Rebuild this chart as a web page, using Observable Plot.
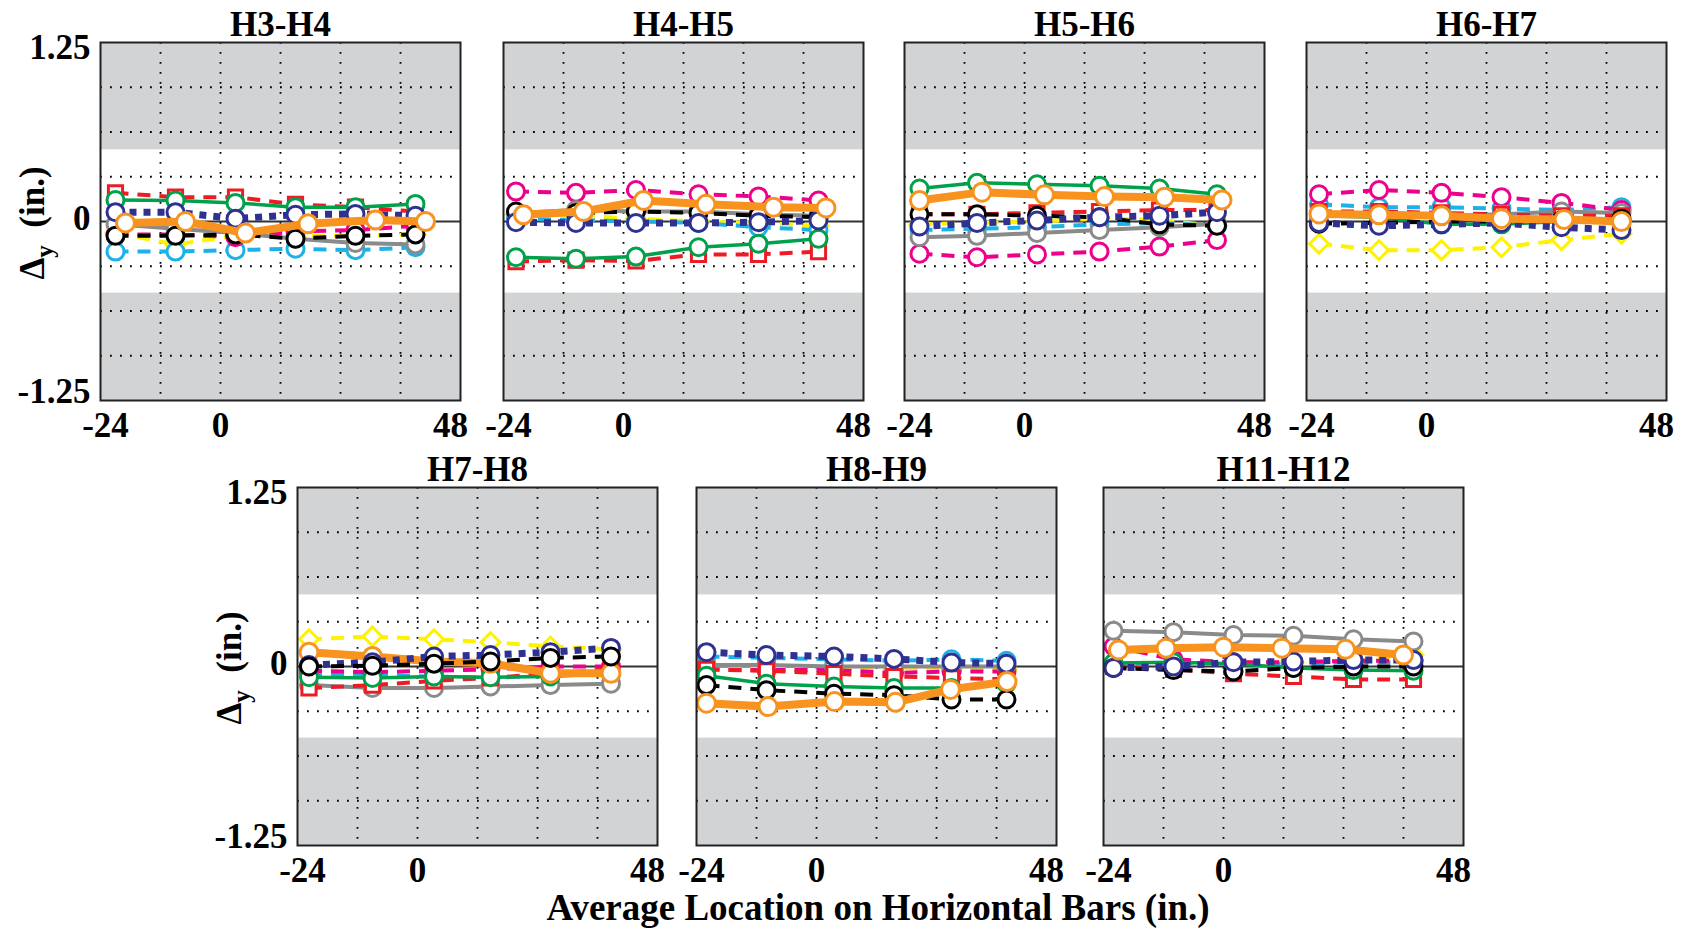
<!DOCTYPE html>
<html>
<head>
<meta charset="utf-8">
<script src="https://cdn.jsdelivr.net/npm/d3@7"></script>
<script src="https://cdn.jsdelivr.net/npm/@observablehq/plot@0.6"></script>
<style>
  html, body { margin: 0; padding: 0; background: #fff; }
  #chart { position: relative; width: 1689px; height: 928px; overflow: hidden;
           font-family: "Liberation Serif", "Times New Roman", serif; }
  .panel { position: absolute; }
  .panel svg { overflow: visible; max-width: none; }
  .ylab { position: absolute; font-weight: bold; font-size: 35px; white-space: nowrap;
          transform: translate(-50%, -50%) rotate(-90deg); line-height: 1; }
  .ylab sub { font-size: 25px; vertical-align: -9px; }
  .xlab { position: absolute; font-weight: bold; font-size: 37px; white-space: nowrap;
          transform: translateX(-50%); line-height: 1; }
</style>
</head>
<body>
<div id="chart"></div>
<script>
// ---------- data ----------
const panelTitles = ["H3-H4", "H4-H5", "H5-H6", "H6-H7", "H7-H8", "H8-H9", "H11-H12"];
const xDomain = [-24, 48];
const yDomain = [-1.25, 1.25];
const xTicks = [-24, 0, 48];
const yTicks = [-1.25, 0, 1.25];
const xGrid = [-12, 0, 12, 24, 36];
const yGrid = [-0.9375, -0.625, -0.3125, 0.3125, 0.625, 0.9375];
const limitBands = [[0.5, 1.25], [-1.25, -0.5]];

// average gauge locations (in.) per panel
const locations = [
  [-21, -9, 3, 15, 27, 39],
  [-21.5, -9.5, 2.5, 15, 27, 39],
  [-21, -9.5, 2.5, 15, 27, 38.5],
  [-21.5, -9.5, 3, 15, 27, 39],
  [-21.7, -9, 3.3, 14.6, 26.6, 38.7],
  [-22, -10, 3.5, 15.5, 27, 38],
  [-22, -10, 2, 14, 26, 38]
];
const orangeLocations = [
  [-19, -7, 5, 17.5, 31, 41],
  [-20, -8, 4, 16.5, 30, 40.5],
  [-21, -8.5, 4, 16, 28, 39.5],
  [-21.5, -9.5, 3, 15, 27.5, 39],
  [-21.7, -9, 3.3, 14.6, 26.6, 38.7],
  [-22, -9.7, 3.6, 15.8, 26.8, 38.1],
  [-21, -11.5, 0, 11.7, 24.4, 36]
];

// Δy (in.) for each series, one row per panel
const yellow = [
  [-0.08, -0.16, -0.1, -0.1, -0.1, -0.09],
  [0.05, 0.04, 0.02, 0.0, -0.01, -0.03],
  [-0.02, -0.01, 0.0, 0.02, 0.01, -0.03],
  [-0.155, -0.2, -0.2, -0.18, -0.13, -0.085],
  [0.19, 0.21, 0.19, 0.17, 0.14, 0.12],
  [-0.01, -0.01, -0.01, -0.01, -0.02, -0.02],
  [0.02, 0.02, 0.03, 0.03, 0.04, 0.08]
];
const cyan = [
  [-0.21, -0.21, -0.2, -0.19, -0.2, -0.18],
  [0.02, 0.01, 0.0, -0.01, -0.04, -0.06],
  [-0.06, -0.05, -0.04, -0.02, -0.01, -0.03],
  [0.12, 0.1, 0.1, 0.09, 0.08, 0.1],
  [-0.05, -0.06, -0.07, -0.08, -0.06, -0.05],
  [0.07, 0.06, 0.05, 0.04, 0.05, 0.04],
  [0.02, 0.02, 0.02, 0.02, 0.03, 0.03]
];
const magenta = [
  [-0.09, -0.09, -0.11, -0.07, -0.06, -0.03],
  [0.21, 0.2, 0.22, 0.19, 0.175, 0.147],
  [-0.225, -0.25, -0.23, -0.21, -0.175, -0.13],
  [0.19, 0.22, 0.2, 0.17, 0.13, 0.08],
  [-0.03, -0.04, -0.03, -0.02, 0.0, 0.0],
  [-0.02, -0.025, -0.025, -0.045, -0.035, -0.035],
  [0.14, 0.05, 0.03, 0.03, 0.04, 0.04]
];
const gray = [
  [-0.02, -0.05, -0.08, -0.12, -0.15, -0.16],
  [0.06, 0.08, 0.07, 0.07, 0.05, 0.04],
  [-0.11, -0.1, -0.08, -0.06, -0.04, -0.016],
  [0.06, 0.05, 0.04, 0.05, 0.07, 0.06],
  [-0.13, -0.15, -0.15, -0.14, -0.13, -0.12],
  [0.01, 0.01, 0.0, 0.0, 0.0, 0.0],
  [0.25, 0.24, 0.22, 0.215, 0.19, 0.175]
];
const red = [
  [0.2, 0.17, 0.17, 0.12, 0.1, 0.07],
  [-0.28, -0.27, -0.275, -0.23, -0.23, -0.21],
  [0.05, 0.05, 0.06, 0.07, 0.08, 0.08],
  [0.07, 0.07, 0.06, 0.05, 0.04, 0.04],
  [-0.15, -0.13, -0.1, -0.08, -0.05, -0.02],
  [-0.02, -0.03, -0.05, -0.07, -0.08, -0.09],
  [0.0, -0.02, -0.05, -0.07, -0.09, -0.09]
];
const green = [
  [0.15, 0.147, 0.13, 0.1, 0.1, 0.123],
  [-0.25, -0.26, -0.245, -0.18, -0.155, -0.12],
  [0.23, 0.27, 0.26, 0.25, 0.23, 0.19],
  [0.04, 0.03, -0.02, -0.02, 0.0, 0.0],
  [-0.075, -0.08, -0.07, -0.075, -0.07, -0.047],
  [-0.065, -0.12, -0.14, -0.15, -0.15, -0.12],
  [0.025, 0.03, 0.02, -0.01, -0.025, -0.03]
];
const black = [
  [-0.1, -0.1, -0.09, -0.12, -0.1, -0.09],
  [0.07, 0.06, 0.07, 0.06, 0.04, 0.03],
  [0.05, 0.05, 0.04, 0.03, -0.02, -0.03],
  [-0.015, -0.01, 0.0, 0.0, 0.01, 0.02],
  [0.0, 0.005, 0.02, 0.035, 0.06, 0.07],
  [-0.13, -0.165, -0.19, -0.2, -0.23, -0.23],
  [-0.01, -0.025, -0.035, -0.01, 0.0, 0.0]
];
const navy = [
  [0.065, 0.065, 0.02, 0.047, 0.053, 0.04],
  [-0.005, -0.01, -0.01, -0.01, -0.005, 0.007],
  [-0.035, -0.01, 0.007, 0.03, 0.04, 0.065],
  [-0.01, -0.03, -0.02, -0.01, -0.04, -0.06],
  [0.01, 0.03, 0.07, 0.08, 0.1, 0.13],
  [0.1, 0.08, 0.07, 0.053, 0.028, 0.02],
  [-0.01, 0.0, 0.03, 0.035, 0.045, 0.045]
];
const orange = [
  [-0.01, 0.0, -0.08, -0.016, 0.01, 0.0],
  [0.047, 0.07, 0.147, 0.12, 0.1, 0.095],
  [0.147, 0.205, 0.186, 0.174, 0.17, 0.15],
  [0.053, 0.047, 0.04, 0.02, 0.014, 0.0],
  [0.1, 0.07, 0.035, 0.023, -0.047, -0.047],
  [-0.256, -0.28, -0.245, -0.25, -0.16, -0.105],
  [0.116, 0.128, 0.135, 0.128, 0.12, 0.08]
];
const seriesValues = { yellow, cyan, magenta, gray, red, green, black, navy, orange };

// ---------- styles & layout ----------
const styles = {
  yellow:  { color: "#fff200", dash: "13,9", width: 4,   symbol: "diamond2", r: 8.5 },
  cyan:    { color: "#1eb1e7", dash: "13,9", width: 4,   symbol: "circle",   r: 8.5 },
  magenta: { color: "#ec008c", dash: "13,9", width: 4,   symbol: "circle",   r: 8.5 },
  gray:    { color: "#8a8a8a", dash: null,   width: 4,   symbol: "circle",   r: 8.5 },
  red:     { color: "#ed1c24", dash: "13,9", width: 4,   symbol: "square",   r: 8 },
  green:   { color: "#00a14b", dash: null,   width: 3.5, symbol: "circle",   r: 8.5 },
  black:   { color: "#000000", dash: "13,9", width: 4,   symbol: "circle",   r: 8.5 },
  navy:    { color: "#2e3192", dash: "7,7",  width: 7,   symbol: "circle",   r: 8.5 },
  orange:  { color: "#f7931e", dash: null,   width: 8,   symbol: "circle",   r: 9 }
};
const defaultOrder = ["yellow", "cyan", "magenta", "gray", "red", "green", "black", "navy", "orange"];
const order5 = ["yellow", "cyan", "magenta", "gray", "red", "green", "orange", "navy", "black"];

const frameW = 360, frameH = 358;
const M = { left: 100, top: 50, right: 40, bottom: 50 };
const frames = [[100, 42], [503, 42], [904, 42], [1306, 42], [297, 487], [696, 487], [1103, 487]];
const FONT = "'Liberation Serif', 'Times New Roman', serif";
const TICK_FS = 35;
// inward nudges of the end tick labels (as in the original figure)
const xTickNudge = [5, 0, -10];
const yTickNudge = [-9, -3, 5];

const chart = document.getElementById("chart");

panelTitles.forEach((title, p) => {
  const bands = limitBands.map(([lo, hi]) => ({ x1: xDomain[0], x2: xDomain[1], y1: lo, y2: hi }));
  const order = p === 4 ? order5 : defaultOrder;
  const showY = p === 0 || p === 4;
  const marks = [
    Plot.rect(bands, { x1: "x1", x2: "x2", y1: "y1", y2: "y2", fill: "#d1d3d4" }),
    Plot.ruleY(yGrid, { stroke: "#000", strokeWidth: 1.8, strokeDasharray: "1.8,8.2" }),
    Plot.ruleX(xGrid, { stroke: "#000", strokeWidth: 1.8, strokeDasharray: "1.8,8.2" }),
    Plot.ruleY([0], { stroke: "#333", strokeWidth: 1.8 })
  ];
  for (const name of order) {
    const st = styles[name];
    const xs = name === "orange" ? orangeLocations[p] : locations[p];
    const rows = seriesValues[name][p].map((v, i) => ({ x: xs[i], y: v }));
    marks.push(Plot.line(rows, {
      x: "x", y: "y", stroke: st.color, strokeWidth: st.width,
      strokeDasharray: st.dash || undefined, strokeLinejoin: "round", strokeLinecap: "butt"
    }));
    marks.push(Plot.dot(rows, {
      x: "x", y: "y", r: st.r, symbol: st.symbol, stroke: st.color, fill: "white", strokeWidth: 3
    }));
  }
  marks.push(Plot.frame({ stroke: "#222", strokeWidth: 2 }));
  marks.push(Plot.text([title], {
    frameAnchor: "top", lineAnchor: "middle", dy: -18, text: d => d,
    fontSize: 35, fontWeight: "bold", fill: "#000"
  }));
  xTicks.forEach((t, i) => {
    marks.push(Plot.axisX([t], {
      tickSize: 0, tickPadding: 12, dx: xTickNudge[i], fontSize: TICK_FS, fontWeight: "bold",
      tickFormat: d => String(d), label: null, fill: "#000"
    }));
  });
  if (showY) {
    yTicks.forEach((t, i) => {
      marks.push(Plot.axisY([t], {
        tickSize: 0, tickPadding: 10, dy: yTickNudge[i], fontSize: TICK_FS, fontWeight: "bold",
        tickFormat: d => String(d), label: null, fill: "#000"
      }));
    });
  }

  const svg = Plot.plot({
    width: M.left + frameW + M.right,
    height: M.top + frameH + M.bottom,
    marginLeft: M.left, marginRight: M.right, marginTop: M.top, marginBottom: M.bottom,
    style: { fontFamily: FONT, fontWeight: "bold", background: "transparent",
             color: "#000", overflow: "visible" },
    x: { domain: xDomain, label: null },
    y: { domain: yDomain, label: null, axis: showY ? undefined : null },
    marks
  });
  const div = document.createElement("div");
  div.className = "panel";
  div.style.left = (frames[p][0] - M.left) + "px";
  div.style.top = (frames[p][1] - M.top) + "px";
  div.appendChild(svg);
  chart.appendChild(div);

  if (showY) {
    const lab = document.createElement("div");
    lab.className = "ylab";
    lab.innerHTML = "Δ<sub>y</sub>&nbsp;&nbsp;(in.)";
    lab.style.left = (frames[p][0] - 64) + "px";
    lab.style.top = (frames[p][1] + frameH / 2 + 2) + "px";
    chart.appendChild(lab);
  }
});

const xl = document.createElement("div");
xl.className = "xlab";
xl.textContent = "Average Location on Horizontal Bars (in.)";
xl.style.left = "878px";
xl.style.top = "889px";
chart.appendChild(xl);
</script>
</body>
</html>
